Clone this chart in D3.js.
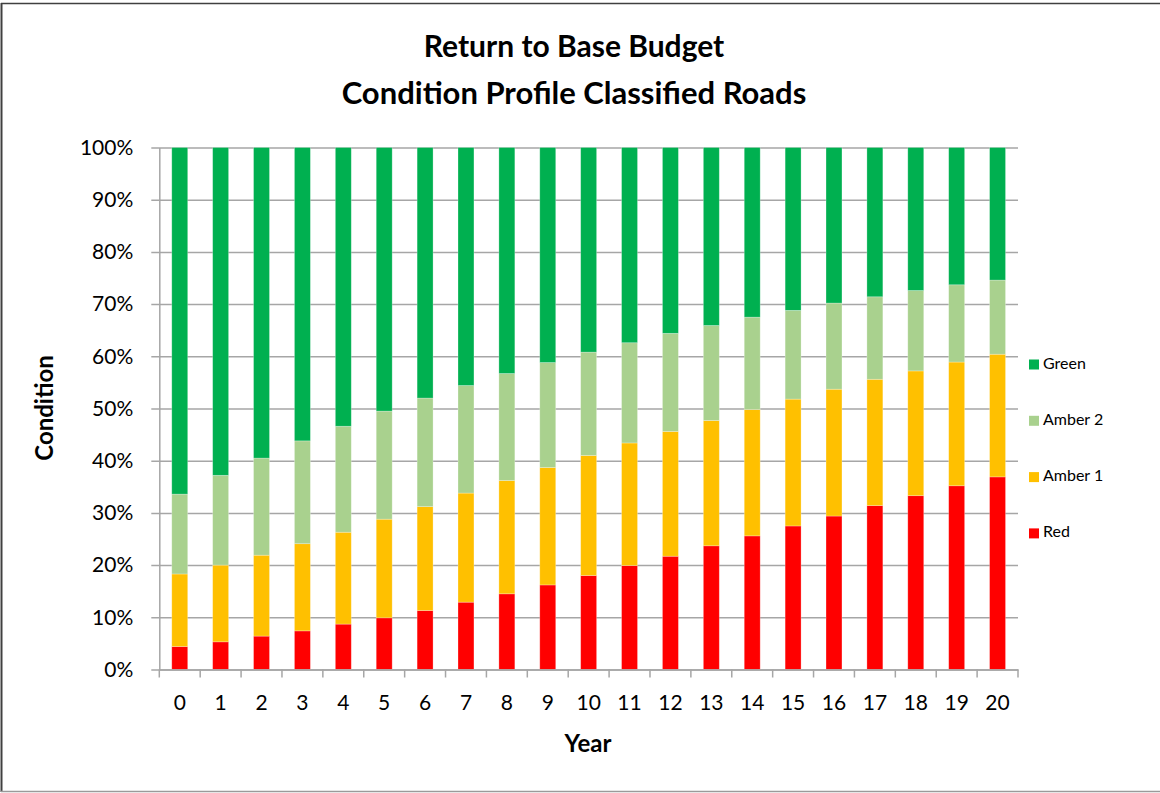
<!DOCTYPE html>
<html>
<head>
<meta charset="utf-8">
<script src="https://cdn.jsdelivr.net/npm/d3@7"></script>
<style>
  body { margin: 0; background: #fff; }
  text { font-family: Lato, "Open Sans", sans-serif; fill: #000; }
</style>
</head>
<body>
<svg width="1160" height="793"></svg>
<script>
// **** Data ****
var years = d3.range(0, 21).map(String);
var seriesNames = ["Red", "Amber 1", "Amber 2", "Green"];
var seriesColors = ["#FF0000", "#FFC000", "#A9D18E", "#00B050"];

var red    = [4.4, 5.3, 6.4, 7.4, 8.7, 9.9, 11.3, 12.9, 14.5, 16.2, 18.0, 19.9, 21.7, 23.7, 25.6, 27.5, 29.4, 31.4, 33.3, 35.2, 36.9];
var amber1 = [13.9, 14.7, 15.5, 16.7, 17.6, 18.9, 19.9, 20.9, 21.7, 22.5, 23.0, 23.5, 23.9, 24.0, 24.2, 24.3, 24.3, 24.2, 23.9, 23.7, 23.5];
var amber2 = [15.3, 17.2, 18.6, 19.7, 20.3, 20.7, 20.8, 20.6, 20.5, 20.1, 19.8, 19.2, 18.8, 18.2, 17.7, 17.0, 16.5, 15.8, 15.4, 14.8, 14.2];
var green  = [66.4, 62.8, 59.5, 56.2, 53.4, 50.5, 48.0, 45.6, 43.3, 41.2, 39.2, 37.4, 35.6, 34.1, 32.5, 31.2, 29.8, 28.6, 27.4, 26.3, 25.4];
var yTicks = [0, 10, 20, 30, 40, 50, 60, 70, 80, 90, 100];

var rows = years.map(function(y, i) {
    return { year: y, "Red": red[i], "Amber 1": amber1[i], "Amber 2": amber2[i], "Green": green[i] };
});

// **** Scales ****
var svg = d3.select("svg");
var plotLeft = 159.3, plotRight = 1018, plotTop = 147.5, plotBottom = 669.5;

var xScale = d3.scaleBand()
    .domain(years).range([plotLeft, plotRight])
    .paddingInner(0.61).paddingOuter(0.305);

var yScale = d3.scaleLinear()
    .domain([0, 100]).range([plotBottom, plotTop]);

var color = d3.scaleOrdinal().domain(seriesNames).range(seriesColors);

// outer frame
svg.append("line").attr("x1", 1.5).attr("y1", 3).attr("x2", 1.5).attr("y2", 792)
    .style("stroke", "#404040").style("stroke-width", 2);
svg.append("line").attr("x1", 1).attr("y1", 3.5).attr("x2", 1160).attr("y2", 3.5)
    .style("stroke", "#404040").style("stroke-width", 1.5);
svg.append("line").attr("x1", 1).attr("y1", 791.5).attr("x2", 1160).attr("y2", 791.5)
    .style("stroke", "#9a9a9a").style("stroke-width", 1.5);

// **** Gridlines and y axis ****
svg.append("g")
    .attr("class", "grid")
    .attr("transform", "translate(" + plotRight + ",0)")
    .call(d3.axisLeft(yScale).tickValues(yTicks).tickSize(plotRight - plotLeft + 8).tickFormat(""))
    .call(function(g) {
        g.select(".domain").remove();
        g.selectAll("line").style("stroke", "#a6a6a6").style("stroke-width", 1.5);
    });

svg.append("g")
    .attr("class", "y axis")
    .attr("transform", "translate(" + plotLeft + ",0)")
    .call(d3.axisLeft(yScale).tickValues(yTicks).tickSize(0).tickPadding(26)
        .tickFormat(function(d) { return d + "%"; }))
    .call(function(g) {
        g.select(".domain").style("stroke", "#a6a6a6").style("stroke-width", 1.5);
        g.selectAll("text").style("font-size", "21px").style("font-family", "Lato");
    });

// **** Bars ****
var stacked = d3.stack().keys(seriesNames)(rows);

svg.append("g").selectAll("g")
    .data(stacked)
    .enter()
    .append("g")
    .style("fill", function(d) { return color(d.key); })
    .selectAll("rect")
    .data(function(d) { return d; })
    .enter()
    .append("rect")
    .attr("x", function(d) { return xScale(d.data.year); })
    .attr("y", function(d) { return yScale(d[1]); })
    .attr("width", xScale.bandwidth())
    .attr("height", function(d) { return yScale(d[0]) - yScale(d[1]); })
    .style("stroke", "#ffffff")
    .style("stroke-opacity", 0.35)
    .style("stroke-width", 0.75);

// **** x axis ****
var xAxis = svg.append("g")
    .attr("class", "x axis")
    .attr("transform", "translate(0," + plotBottom + ")")
    .call(d3.axisBottom(xScale).tickSize(0).tickPadding(26))
    .call(function(g) {
        g.select(".domain").style("stroke", "#a6a6a6").style("stroke-width", 1.5);
        g.selectAll("text").style("font-size", "21px").style("font-family", "Lato");
    });

// category boundary tick marks
xAxis.selectAll(".bound")
    .data(d3.range(0, years.length + 1))
    .enter()
    .append("line")
    .attr("class", "bound")
    .attr("x1", function(i) { return plotLeft + i * xScale.step(); })
    .attr("x2", function(i) { return plotLeft + i * xScale.step(); })
    .attr("y1", 0).attr("y2", 8)
    .style("stroke", "#a6a6a6").style("stroke-width", 1.5);

// **** Labels ****
svg.append("text")
    .attr("x", 574).attr("y", 57)
    .attr("text-anchor", "middle")
    .style("font-size", "30px").style("font-weight", "bold")
    .text("Return to Base Budget");
svg.append("text")
    .attr("x", 574).attr("y", 104)
    .attr("text-anchor", "middle")
    .style("font-size", "31px").style("font-weight", "bold")
    .text("Condition Profile Classified Roads");

svg.append("text")
    .attr("x", 588).attr("y", 752)
    .attr("text-anchor", "middle")
    .style("font-size", "24px").style("font-weight", "bold")
    .text("Year");

svg.append("text")
    .attr("transform", "translate(53,408) rotate(-90)")
    .attr("text-anchor", "middle")
    .style("font-size", "24px").style("font-weight", "bold")
    .text("Condition");

// **** Legend ****
var legendNames = seriesNames.slice().reverse();
var legend = svg.append("g").selectAll("g")
    .data(legendNames)
    .enter()
    .append("g")
    .attr("transform", function(d, i) { return "translate(1029," + (364.5 + i * 56.3) + ")"; });

legend.append("rect")
    .attr("x", 0).attr("y", -5)
    .attr("width", 10).attr("height", 10)
    .style("fill", function(d) { return color(d); });

legend.append("text")
    .attr("x", 14).attr("y", 0)
    .attr("dominant-baseline", "middle")
    .style("font-size", "16px")
    .text(function(d) { return d; });
</script>
</body>
</html>
